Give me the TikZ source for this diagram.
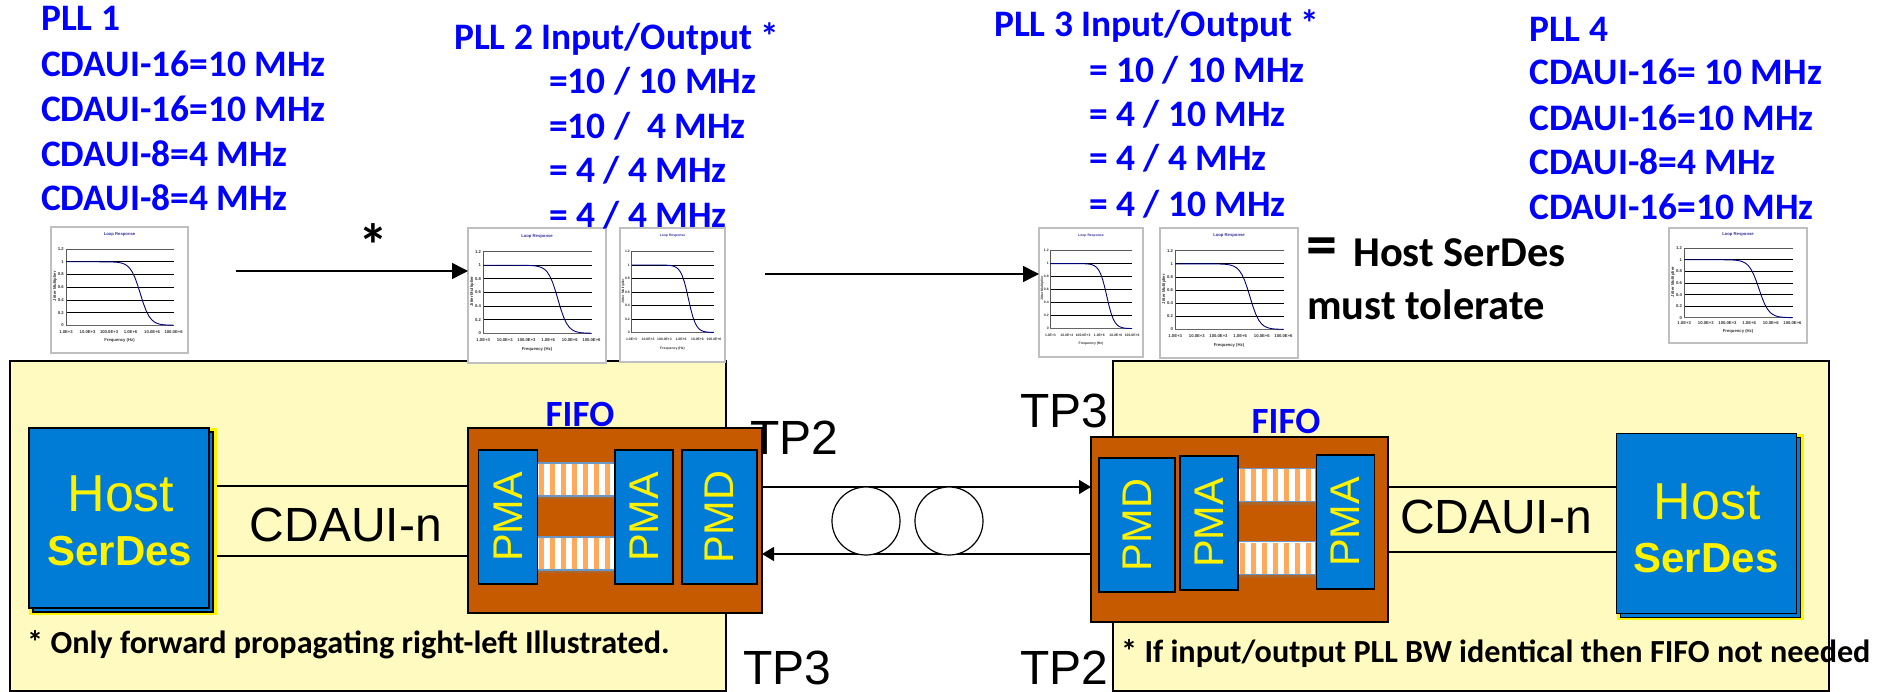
\documentclass[tikz,border=0pt]{standalone}
\usepackage{fontspec}
\setmainfont{Carlito}
\newfontfamily\arialfont{Liberation Sans}
\usetikzlibrary{arrows.meta,positioning,shadows,calc}
\definecolor{cText}{HTML}{0000FF}
\definecolor{cBlock}{HTML}{007CD6}
\definecolor{cFifo}{HTML}{C55A00}
\definecolor{cBoard}{HTML}{FFFAC0}
\definecolor{cBar}{HTML}{FFA95C}
\definecolor{cBarEdge}{HTML}{6A96C8}
\definecolor{cChart}{HTML}{BFBFBF}
\definecolor{cCurve}{HTML}{000080}
\newcommand{\fsz}[1]{\fontsize{#1}{#1}\selectfont}
\tikzset{
  plltext/.style={font=\fsz{37.4}\bfseries,text=cText,anchor=west,inner sep=0pt},
  fifotext/.style={font=\fsz{37}\bfseries,text=cText,inner sep=0pt},
  notetext/.style={font=\fsz{32.2}\bfseries,anchor=west,inner sep=0pt},
  tolerate/.style={font=\fsz{42.5}\bfseries,anchor=west,inner sep=0pt},
  bigtext/.style={font=\arialfont\fsz{48},inner sep=0pt},
  board/.style={draw=black,line width=1.5pt,fill=cBoard},
  fifobox/.style={draw=black,line width=1.4pt,fill=cFifo,inner sep=0pt,outer sep=0pt},
  blockbox/.style={draw=black,line width=1.4pt,fill=cBlock,text=yellow,inner sep=0pt,
    outer sep=0pt,font=\arialfont\fsz{41.5}},
  hostbox/.style={draw=black,line width=1.4pt,fill=cBlock,inner sep=0pt,outer sep=0pt},
  barbox/.style={draw=cBarEdge,line width=1.2pt,fill=white,inner sep=0pt,outer sep=0pt,
    minimum width=78pt,minimum height=33pt,drop shadow={opacity=.35,shadow xshift=0pt,shadow yshift=-3pt}},
  chartbox/.style={draw=cChart,line width=1.5pt,fill=white,inner sep=0pt,outer sep=0pt},
  flowline/.style={line width=1.5pt,-{Triangle[length=16pt,width=16pt]}},
  linkline/.style={line width=1.2pt},
  fiberline/.style={line width=1.2pt,-{Triangle[length=12pt,width=14pt]}},
  fiberloop/.style={draw=black,line width=1.2pt,circle,inner sep=0pt,outer sep=0pt,
    minimum width=68pt,fill=white}
}
\begin{document}
\begin{tikzpicture}[x=1pt,y=-1pt]
\useasboundingbox (0,0) rectangle (1883,692);

% boards
\draw[board] (10,361) rectangle (726,691);
\draw[board] (1113,361) rectangle (1829,691);

% id/left/top/width/height/font size of the tick labels
\foreach \i/\cx/\cy/\cw/\ch/\fs in {%
  1/51/227/137/126/4.2,
  2/468/228/138/135/4.2,
  3/620/228/105/134/3.4,
  4/1039/228/104/129/3.4,
  5/1160/228/138/130/4.2,
  6/1669/228/138/115/4.2}
{
  \node[chartbox,minimum width=\cw pt,minimum height=\ch pt,anchor=north west]
    (chart\i) at (\cx,\cy) {};
  \begin{scope}[shift={(\cx,\cy)},x=\cw pt,y=-\ch pt,
      every node/.style={font=\arialfont\fsz{\fs}\bfseries,inner sep=0pt,text=black!80}]
    \foreach \v in {1,...,5}
      \draw[black,line width=.9pt] (.11,{.175+\v*.101}) -- (.895,{.175+\v*.101});
    \draw[black!65,line width=.9pt] (.11,.78) -- (.11,.175) -- (.895,.175);
    \draw[black!60,line width=.7pt] (.11,.78) -- (.895,.78);
    \draw[cCurve,line width=.9pt] plot[domain=0:1,samples=40]
      ({.11+\x*.785},{.78-.504/(1+exp((\x-.69)/.045))});
    \node[text=cCurve!80] (title\i) at (.5,.06) {Loop Response};
    \foreach \v/\lab in {0/1.2,1/1,2/0.8,3/0.6,4/0.4,5/0.2,6/0}
      \node[anchor=east] (ytick\i\v) at (.095,{.175+\v*.101}) {\lab};
    \foreach \v/\lab in {0/1.0E+3,1/10.0E+3,2/100.0E+3,3/1.0E+6,4/10.0E+6,5/100.0E+6}
      \node (xtick\i\v) at ({.11+\v*.157},.83) {\lab};
    \node[rotate=90] (ylabel\i) at (.03,.47) {Jitter Multiplier};
    \node (xlabel\i) at (.5,.9) {Frequency (Hz)};
  \end{scope}
}

% PLL texts
\foreach \i/\x/\y/\txt in {%
  a1/41/18/PLL 1,a2/41/64/CDAUI-16=10 MHz,a3/41/109/CDAUI-16=10 MHz,
  a4/41/154/CDAUI-8=4 MHz,a5/41/198/CDAUI-8=4 MHz,
  b1/454/39/{PLL 2 Input/Output *},b2/549/81/{=10 / 10 MHz},b3/549/126/{=10 /\ \ 4 MHz},
  b4/549/170/{= 4 / 4 MHz},b5/549/215/{= 4 / 4 MHz},
  c1/994/26/{PLL 3 Input/Output *},c2/1089/70/{= 10 / 10 MHz},c3/1089/114/{= 4 / 10 MHz},
  c4/1089/158/{= 4 / 4 MHz},c5/1089/204/{= 4 / 10 MHz},
  d1/1529/29/PLL 4,d2/1529/72/CDAUI-16= 10 MHz,d3/1529/118/CDAUI-16=10 MHz,
  d4/1529/162/CDAUI-8=4 MHz,d5/1529/207/CDAUI-16=10 MHz}
{
  \node[plltext] (pll\i) at (\x,\y) {\txt};
}

% jitter transfer arrows
\coordinate (flowA) at (236,271);
\coordinate (flowB) at (765,274);
\draw[flowline] (flowA) -- (chart2.west |- flowA);
\draw[flowline] (flowB) -- (chart4.west |- flowB);
\node[font=\fsz{60}\bfseries,inner sep=0pt] (star) at (373,245) {*};
\node[font=\fsz{62}\bfseries,anchor=west,inner sep=0pt] (equal) at (1306,252) {=};
\node[tolerate] (tolA) at (1353,253) {Host SerDes};
\node[tolerate] (tolB) at (1307,305) {must tolerate};

% modules
\node[fifobox,minimum width=294pt,minimum height=185pt,anchor=north west] (fifoL) at (468,428) {};
\node[fifobox,minimum width=297pt,minimum height=185pt,anchor=north west] (fifoR) at (1091,437) {};
\node[fifotext] (fifoLt) at (580,414) {FIFO};
\node[fifotext] (fifoRt) at (1286,421) {FIFO};

% bars between the blocks
\foreach \i/\cx/\cy in {a/576/479.5,b/576/553.5,c/1277/485,d/1277/558}
{
  \node[barbox] (bar\i) at (\cx,\cy) {};
  \foreach \k in {0,...,6}
    \fill[cBar] ($(bar\i.north west)+({1.5+\k*11},1)$) rectangle ++(5.5,31);
}

% blocks (text runs upwards)
\foreach \i/\cx/\cy/\w/\h/\name in {%
  a/508/517/59/134/PMA,
  b/644/517/58/134/PMA,
  c/719.5/517/75/134/PMD,
  d/1137/525/76/134/PMD,
  e/1209/523/58/134/PMA,
  f/1345.5/522/58/134/PMA}
{
  \node[blockbox,rotate=90,minimum width=\h pt,minimum height=\w pt] (block\i) at (\cx,\cy) {\name};
}

% hosts
\fill[yellow] (29,428) rectangle (217,615);
\fill[yellow] (1617,434) rectangle (1804,620);
\foreach \i/\cx/\cy in {1/119/518,2/1706.5/523.5}
{
  \node[hostbox,minimum width=180pt,minimum height=180pt] (hostb\i) at ({\cx+4},{\cy+4}) {};
  \node[hostbox,minimum width=180pt,minimum height=180pt] (host\i) at (\cx,\cy) {};
}
\node[text=yellow,font=\arialfont\fsz{52}] (hostLa) at (121,494) {Host};
\node[text=yellow,font=\arialfont\fsz{42}\bfseries] (hostLb) at (120,551) {SerDes};
\node[text=yellow,font=\arialfont\fsz{52}] (hostRa) at (1707,502) {Host};
\node[text=yellow,font=\arialfont\fsz{42}\bfseries] (hostRb) at (1706,558) {SerDes};

% links
\coordinate (hostEdge) at (217,0);
\coordinate (linkA) at (0,486);
\coordinate (linkB) at (0,556);
\coordinate (linkC) at (0,487);
\coordinate (linkD) at (0,552);
\coordinate (fiberA) at (0,487);
\coordinate (fiberB) at (0,554);
\draw[linkline] (hostEdge |- linkA) -- (fifoL.west |- linkA);
\draw[linkline] (hostEdge |- linkB) -- (fifoL.west |- linkB);
\draw[linkline] (fifoR.east |- linkC) -- (host2.west |- linkC);
\draw[linkline] (fifoR.east |- linkD) -- (host2.west |- linkD);
\draw[fiberline] (fifoL.east |- fiberA) -- (fifoR.west |- fiberA);
\draw[fiberline] (fifoR.west |- fiberB) -- (fifoL.east |- fiberB);
\node[fiberloop] (loopA) at (866,521) {};
\node[fiberloop] (loopB) at (949,521) {};

\node[bigtext] (cdauiL) at (346,525) {CDAUI-n};
\node[bigtext] (cdauiR) at (1496,517) {CDAUI-n};
\node[bigtext,anchor=west] (tpA) at (750,438) {TP2};
\node[bigtext,anchor=west] (tpB) at (743,668) {TP3};
\node[bigtext,anchor=west] (tpC) at (1020,411) {TP3};
\node[bigtext,anchor=west] (tpD) at (1020,668) {TP2};

\node[notetext] (noteL) at (27,645) {* Only forward propagating right-left Illustrated.};
\node[notetext] (noteR) at (1121,654) {* If input/output PLL BW identical then FIFO not needed};
\end{tikzpicture}
\end{document}
